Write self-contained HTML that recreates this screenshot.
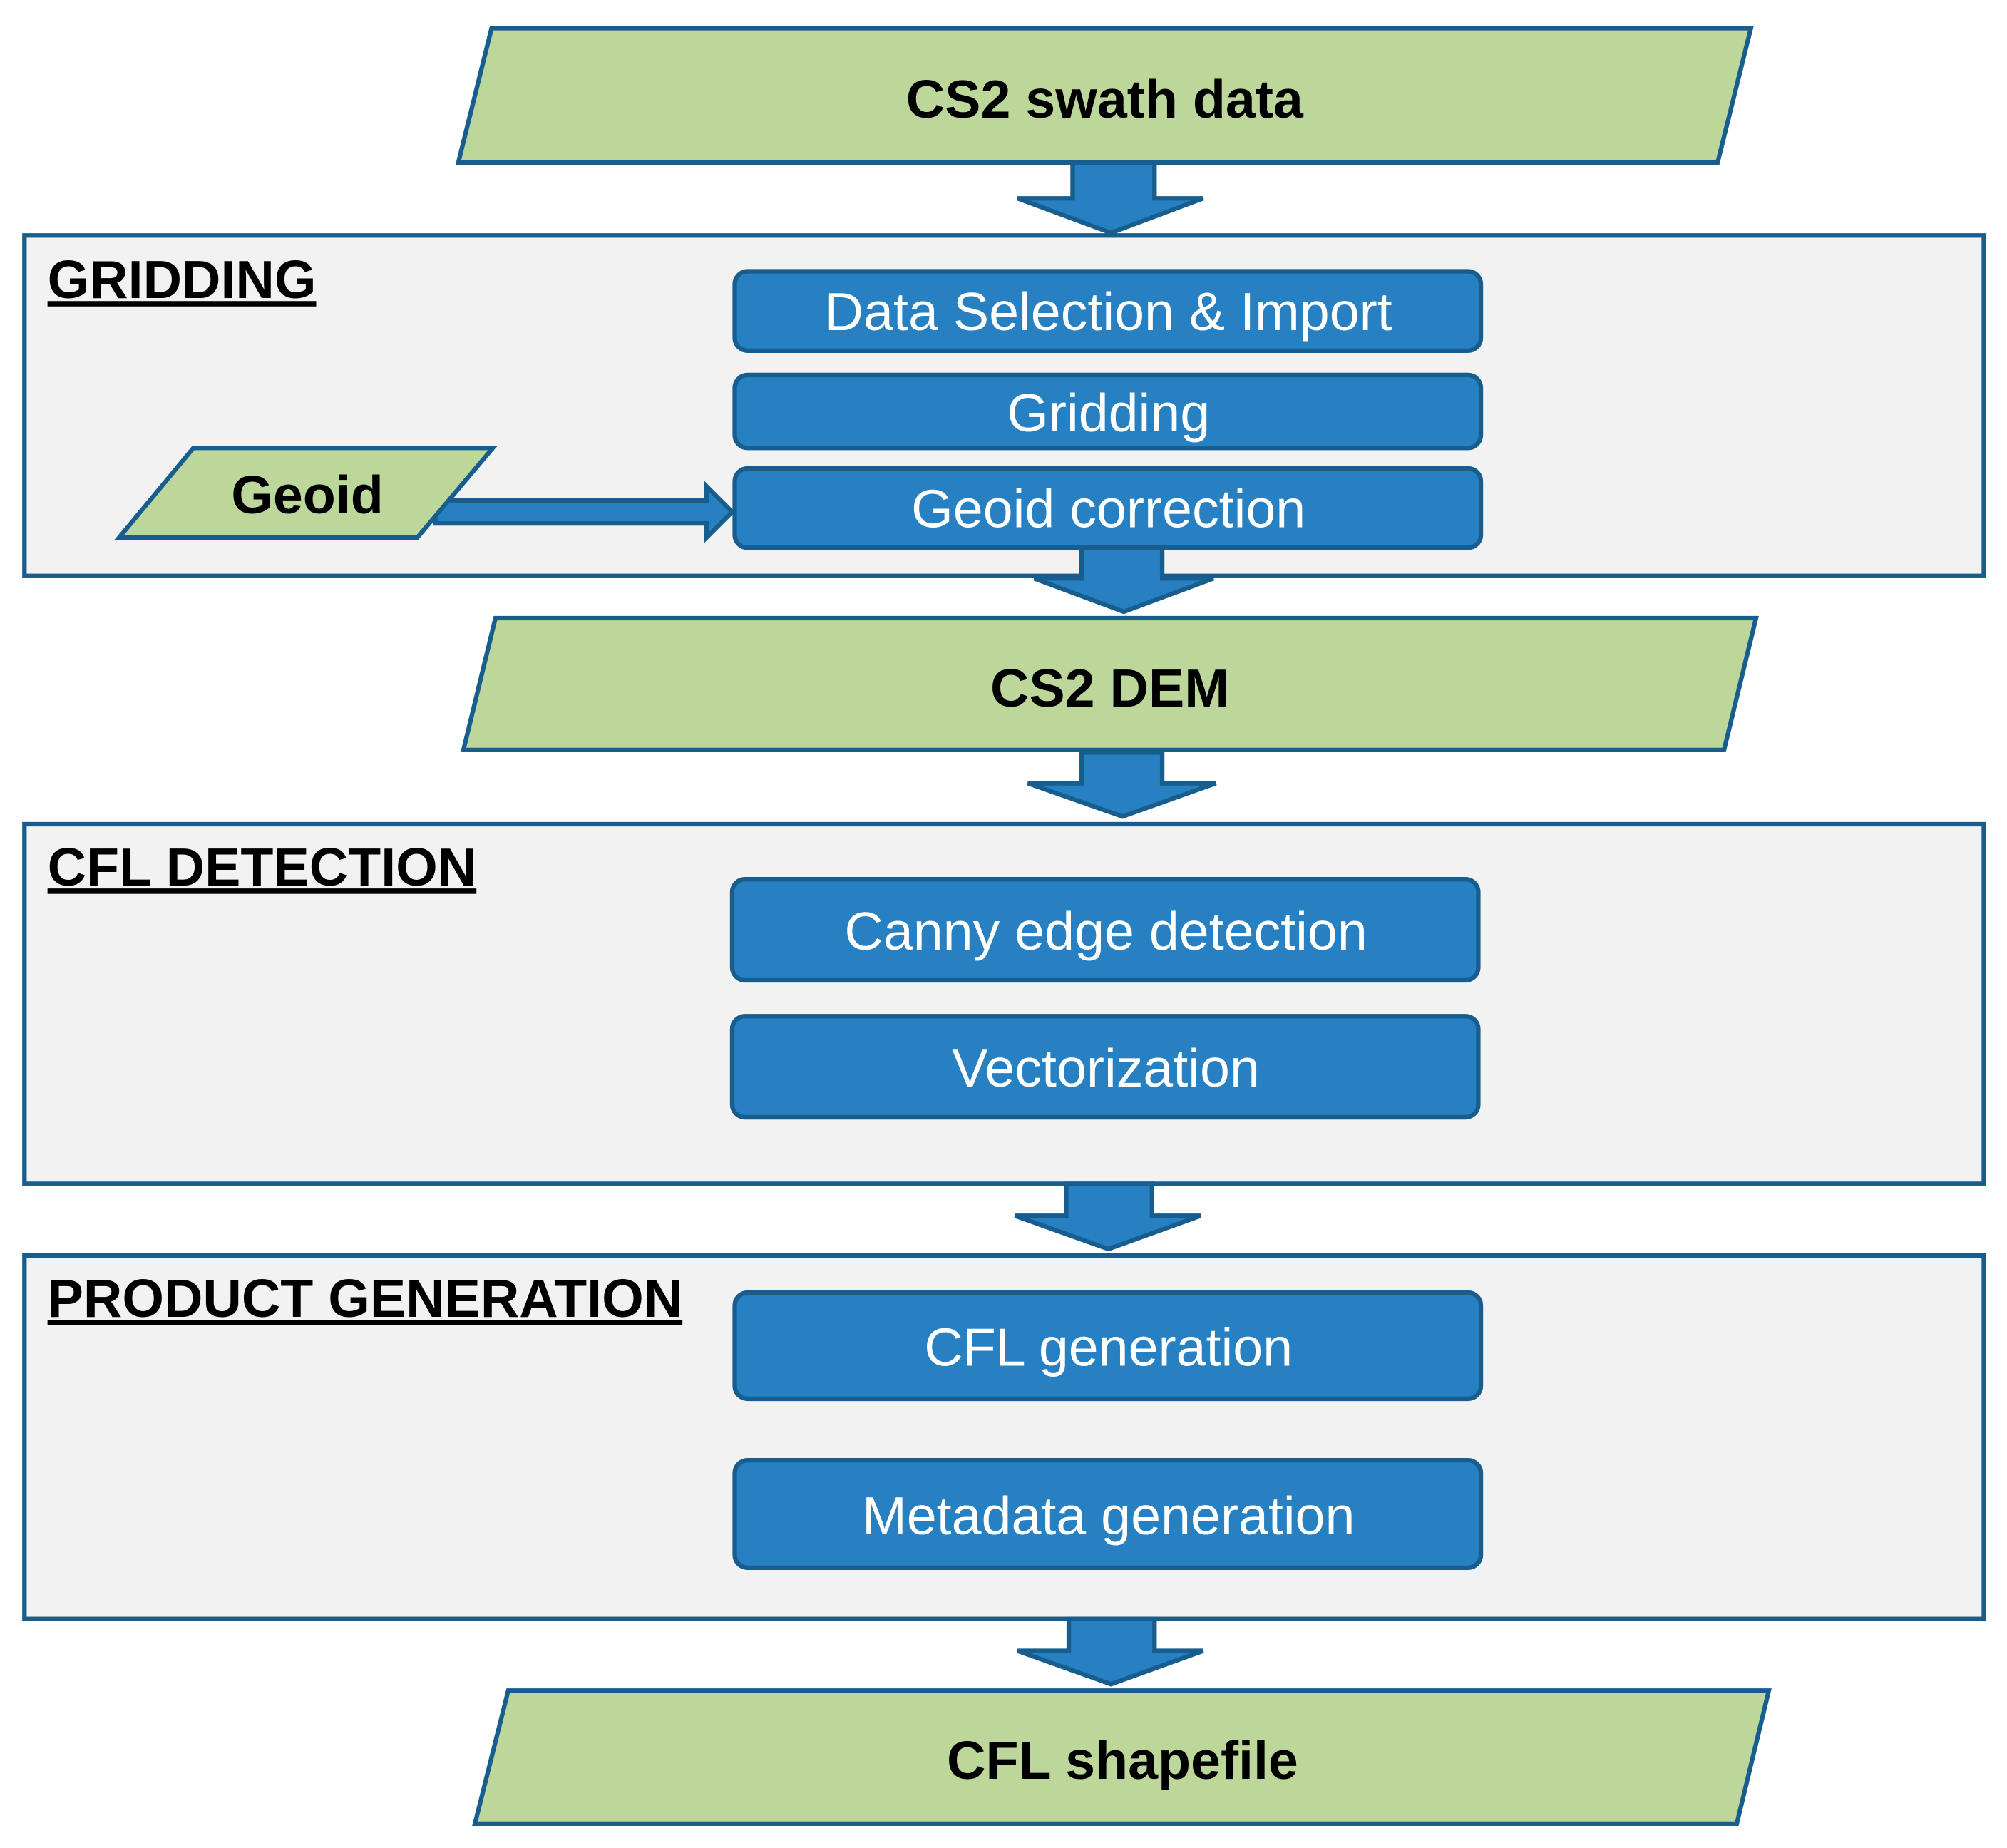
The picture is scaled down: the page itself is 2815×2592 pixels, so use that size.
<!DOCTYPE html>
<html><head><meta charset="utf-8"><style>html,body{margin:0;padding:0;background:#fff}svg{display:block}</style></head>
<body>
<svg width="2815" height="2592" viewBox="0 0 1568 1444" xmlns="http://www.w3.org/2000/svg" font-family="Liberation Sans, Arial, sans-serif">
<g stroke="#175d8d" stroke-width="3.5">
<polygon points="384,22 1368,22 1342,127 358,127" fill="#bdd79b"/>
<polygon points="838,127 902,127 902,155 940,155 868,182 795,155 838,155" fill="#2680c2"/>
<rect x="19" y="184" width="1531" height="266" fill="#f2f2f2"/>
<rect x="574" y="212" width="583" height="62" rx="10" fill="#2680c2"/>
<rect x="574" y="293" width="583" height="57" rx="10" fill="#2680c2"/>
<rect x="574" y="366" width="583" height="62" rx="10" fill="#2680c2"/>
<polygon points="340,391 552,391 552,380 572,400 552,420 552,409 340,409" fill="#2680c2"/>
<polygon points="151,350 385,350 326,420 93,420" fill="#bdd79b"/>
<polygon points="845,428 908,428 908,452 948,452 878,478 808,452 845,452" fill="#2680c2"/>
<polygon points="387,483 1372,483 1347,586 362,586" fill="#bdd79b"/>
<polygon points="845,588 908,588 908,612 950,612 877,638 803,612 845,612" fill="#2680c2"/>
<rect x="19" y="644" width="1531" height="281" fill="#f2f2f2"/>
<rect x="572" y="687" width="583" height="79" rx="10" fill="#2680c2"/>
<rect x="572" y="794" width="583" height="79" rx="10" fill="#2680c2"/>
<polygon points="833,925 900,925 900,950 938,950 866,976 793,950 833,950" fill="#2680c2"/>
<rect x="19" y="981" width="1531" height="284" fill="#f2f2f2"/>
<rect x="574" y="1010" width="583" height="83" rx="10" fill="#2680c2"/>
<rect x="574" y="1141" width="583" height="84" rx="10" fill="#2680c2"/>
<polygon points="835,1265 902,1265 902,1290 940,1290 868,1316 795,1290 835,1290" fill="#2680c2"/>
<polygon points="397,1321 1382,1321 1357,1425 371,1425" fill="#bdd79b"/>
</g>
<g font-weight="bold" font-size="42" fill="#000" text-anchor="middle">
<text x="863" y="92">CS2 swath data</text>
<text x="240" y="401">Geoid</text>
<text x="867" y="552">CS2 DEM</text>
<text x="877" y="1390">CFL shapefile</text>
</g>
<g font-weight="bold" font-size="42" fill="#000" text-decoration="underline">
<text x="37" y="233">GRIDDING</text>
<text x="37" y="692">CFL DETECTION</text>
<text x="37" y="1029">PRODUCT GENERATION</text>
</g>
<g font-size="42" fill="#fff" text-anchor="middle">
<text x="866" y="258">Data Selection &amp; Import</text>
<text x="866" y="337">Gridding</text>
<text x="866" y="412">Geoid correction</text>
<text x="864" y="742">Canny edge detection</text>
<text x="864" y="849">Vectorization</text>
<text x="866" y="1067">CFL generation</text>
<text x="866" y="1199">Metadata generation</text>
</g>
</svg>
</body></html>
